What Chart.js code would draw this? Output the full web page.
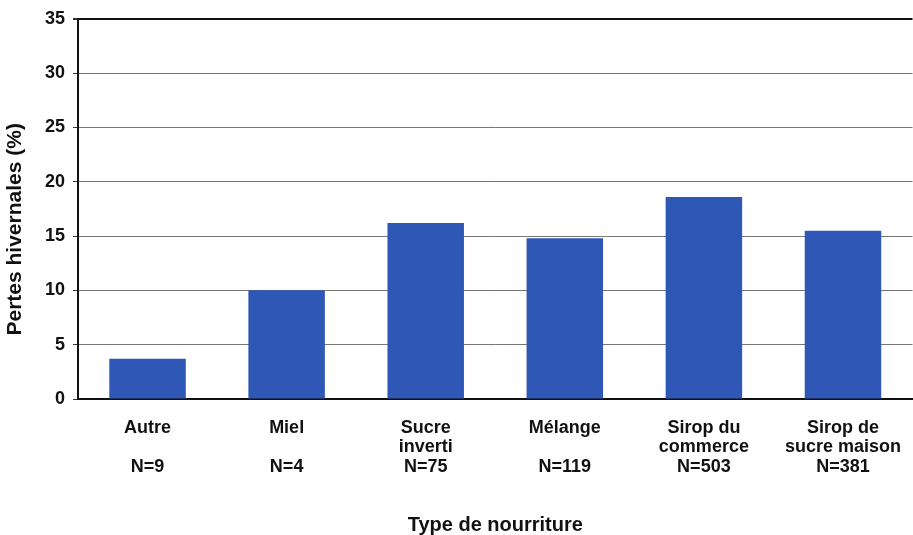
<!DOCTYPE html>
<html>
<head>
<meta charset="utf-8">
<script src="https://cdn.jsdelivr.net/npm/chart.js@4/dist/chart.umd.min.js"></script>
<style>
    html, body { margin: 0; padding: 0; background: #fff; overflow: hidden; }
    #wrap { width: 920px; height: 535px; }
</style>
</head>
<body>
<div id="wrap"><canvas id="losses_chart"></canvas></div>
<script>
const foodTypes = [["Autre"], ["Miel"], ["Sucre", "inverti"], ["Mélange"], ["Sirop du", "commerce"], ["Sirop de", "sucre maison"]];
const sampleSizes = ["N=9", "N=4", "N=75", "N=119", "N=503", "N=381"];
const winterLosses = [3.7, 10.0, 16.2, 14.8, 18.6, 15.5];
const yMin = 0, yMax = 35, yStep = 5;

// three lines per category: name, second name line (or blank), N
var labels = foodTypes.map(function (name, i) {
    return [name[0], name[1] || "", sampleSizes[i]];
});

var font = "'Liberation Sans', Arial, sans-serif";
var ctx = document.getElementById('losses_chart').getContext('2d');
var lossChart = new Chart(ctx, {
    type: 'bar',
    data: {
        labels: labels,
        datasets: [{
            label: 'Pertes hivernales (%)',
            data: winterLosses,
            backgroundColor: '#2f57b6',
            borderWidth: 0,
            categoryPercentage: 1,
            barPercentage: 0.55
        }]
    },
    options: {
        responsive: true,
        maintainAspectRatio: false,
        animation: false,
        layout: { padding: { top: 16, left: 0, right: 0, bottom: 0 } },
        plugins: { legend: { display: false }, tooltip: { enabled: false } },
        scales: {
            x: {
                grid: { display: true, drawOnChartArea: false, drawTicks: false },
                border: { color: '#111', width: 2 },
                ticks: {
                    color: '#111',
                    padding: 19,
                    autoSkip: false,
                    maxRotation: 0,
                    font: { family: font, size: 18, weight: 'bold', lineHeight: '19.5px' }
                },
                title: {
                    display: true,
                    text: 'Type de nourriture',
                    color: '#111',
                    padding: { top: 0, bottom: 0 },
                    font: { family: font, size: 20, weight: 'bold', lineHeight: 1 }
                },
                afterFit: function (scale) { scale.height = 136; }
            },
            y: {
                min: yMin,
                max: yMax,
                grid: {
                    color: function (c) { return c.tick && c.tick.value === yMax ? '#111' : '#777'; },
                    lineWidth: function (c) { return c.tick && c.tick.value === yMax ? 2 : 1; },
                    tickLength: 5,
                    tickColor: '#333'
                },
                border: { color: '#111', width: 2 },
                ticks: {
                    stepSize: yStep,
                    color: '#111',
                    padding: 8,
                    font: { family: font, size: 18, weight: 'bold' }
                },
                title: {
                    display: true,
                    text: 'Pertes hivernales (%)       ',
                    color: '#111',
                    padding: { top: 3, bottom: 0 },
                    font: { family: font, size: 21, weight: 'bold' }
                },
                afterFit: function (scale) { scale.width = 78; }
            }
        }
    }
});
</script>
</body>
</html>
